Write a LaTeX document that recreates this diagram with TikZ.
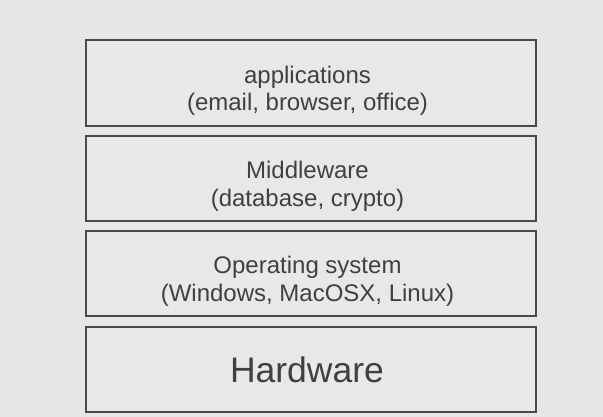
\documentclass[tikz,border=0pt]{standalone}
\usepackage{fontspec}
\setmainfont{Liberation Sans}
\definecolor{bg}{HTML}{E6E6E6}
\definecolor{boxfill}{HTML}{E8E8E8}
\definecolor{edge}{HTML}{4A4A4A}
\definecolor{txt}{HTML}{404040}
\tikzset{
  layer/.style={draw=edge, line width=2.4pt, fill=boxfill, minimum width=450pt,
    minimum height=85pt, inner sep=0pt},
  lbl/.style={inner sep=0pt, align=center, text=txt,
    font=\fontsize{24}{27.5}\selectfont},
  bigtext/.style={font=\fontsize{35.5}{40}\selectfont}
}
\begin{document}
\begin{tikzpicture}[x=1pt,y=-1pt]
\fill[bg] (0,0) rectangle (603,417);
\useasboundingbox (0,0) rectangle (603,417);
\node[layer, minimum height=86pt] (app) at (311,83) {};
\node[layer] (mid) at (311,178.5) {};
\node[layer] (os) at (311,273.5) {};
\node[layer] (hw) at (311,369.5) {};
\node[lbl] (appt) at ([xshift=-3.5pt,yshift=-8pt]app.center) {applications\\(email, browser, office)};
\node[lbl] (midt) at ([xshift=-3.5pt,yshift=-8pt]mid.center) {Middleware\\(database, crypto)};
\node[lbl] (ost) at ([xshift=-3.5pt,yshift=-8pt]os.center) {Operating system\\(Windows, MacOSX, Linux)};
\node[lbl, bigtext] (hwt) at ([xshift=-4pt]hw.center) {Hardware};
\end{tikzpicture}
\end{document}
